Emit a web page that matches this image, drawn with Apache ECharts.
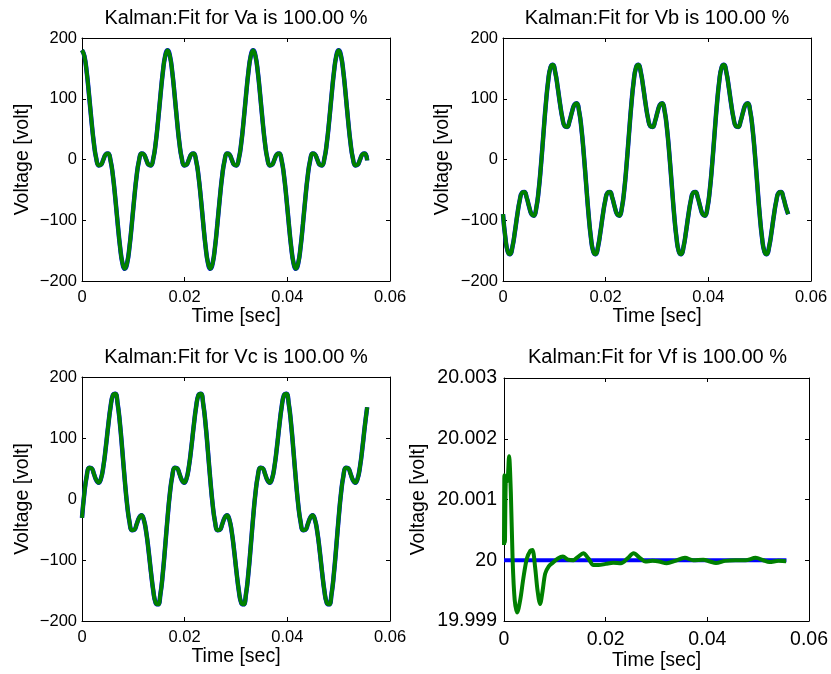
<!DOCTYPE html>
<html><head><meta charset="utf-8">
<script src="https://cdn.jsdelivr.net/npm/echarts@6/dist/echarts.min.js"></script>
<style>html,body{margin:0;padding:0;background:#fff}#chart{width:831px;height:674px}</style>
</head><body><div id="chart"></div>
<script>
// sample times [sec]
const timeSec = [0,0.000463,0.000926,0.001389,0.001852,0.002315,0.002778,0.003241,0.003704,0.004167,
0.004630,0.005093,0.005556,0.006019,0.006481,0.006944,0.007407,0.007870,0.008333,0.008796,
0.009259,0.009722,0.010185,0.010648,0.011111,0.011574,0.012037,0.012500,0.012963,0.013426,
0.013889,0.014352,0.014815,0.015278,0.015741,0.016204,0.016667,0.017130,0.017593,0.018056,
0.018519,0.018981,0.019444,0.019907,0.020370,0.020833,0.021296,0.021759,0.022222,0.022685,
0.023148,0.023611,0.024074,0.024537,0.025000,0.025463,0.025926,0.026389,0.026852,0.027315,
0.027778,0.028241,0.028704,0.029167,0.029630,0.030093,0.030556,0.031019,0.031481,0.031944,
0.032407,0.032870,0.033333,0.033796,0.034259,0.034722,0.035185,0.035648,0.036111,0.036574,
0.037037,0.037500,0.037963,0.038426,0.038889,0.039352,0.039815,0.040278,0.040741,0.041204,
0.041667,0.042130,0.042593,0.043056,0.043519,0.043981,0.044444,0.044907,0.045370,0.045833,
0.046296,0.046759,0.047222,0.047685,0.048148,0.048611,0.049074,0.049537,0.050000,0.050463,
0.050926,0.051389,0.051852,0.052315,0.052778,0.053241,0.053704,0.054167,0.054630,0.055093,
0.055556];

const vaValues = [180,170.3,143.2,104.8,63.2,26.7,1.5,-9.7,-8.5,0,8.5,9.7,-1.5,-26.7,-63.2,-104.8,-143.2,-170.3,-180,-170.3,-143.2,-104.8,-63.2,-26.7,-1.5,9.7,8.5,0,-8.5,-9.7,1.5,26.7,63.2,104.8,143.2,170.3,
180,170.3,143.2,104.8,63.2,26.7,1.5,-9.7,-8.5,0,8.5,9.7,-1.5,-26.7,-63.2,-104.8,-143.2,-170.3,-180,-170.3,-143.2,-104.8,-63.2,-26.7,-1.5,9.7,8.5,0,-8.5,-9.7,1.5,26.7,63.2,104.8,143.2,170.3,
180,170.3,143.2,104.8,63.2,26.7,1.5,-9.7,-8.5,0,8.5,9.7,-1.5,-26.7,-63.2,-104.8,-143.2,-170.3,-180,-170.3,-143.2,-104.8,-63.2,-26.7,-1.5,9.7,8.5,0,-8.5,-9.7,1.5,26.7,63.2,104.8,143.2,170.3,
180,170.3,143.2,104.8,63.2,26.7,1.5,-9.7,-8.5,0,8.5,9.7,-1.5];

const vbValues = [-90.0,-128.9,-151.7,-155.9,-143.2,-119.2,-91.5,-68.1,-54.7,-53.7,-63.2,-77.8,-90.0,-92.5,-80.0,-51.1,-8.5,41.4,90.0,128.9,151.7,155.9,143.2,119.2,91.5,68.1,54.7,53.7,63.2,77.8,90.0,92.5,80.0,51.1,8.5,-41.4,
-90.0,-128.9,-151.7,-155.9,-143.2,-119.2,-91.5,-68.1,-54.7,-53.7,-63.2,-77.8,-90.0,-92.5,-80.0,-51.1,-8.5,41.4,90.0,128.9,151.7,155.9,143.2,119.2,91.5,68.1,54.7,53.7,63.2,77.8,90.0,92.5,80.0,51.1,8.5,-41.4,
-90.0,-128.9,-151.7,-155.9,-143.2,-119.2,-91.5,-68.1,-54.7,-53.7,-63.2,-77.8,-90.0,-92.5,-80.0,-51.1,-8.5,41.4,90.0,128.9,151.7,155.9,143.2,119.2,91.5,68.1,54.7,53.7,63.2,77.8,90.0,92.5,80.0,51.1,8.5,-41.4,
-90.0,-128.9,-151.7,-155.9,-143.2,-119.2,-91.5,-68.1,-54.7,-53.7,-63.2,-77.8,-90.0];

const vcValues = [-31.0,9.7,38.0,51.1,50.5,41.4,31.0,26.7,33.7,53.7,84.2,119.2,150.5,170.3,172.7,155.9,122.2,77.8,31.0,-9.7,-38.0,-51.1,-50.5,-41.4,-31.0,-26.7,-33.7,-53.7,-84.2,-119.2,-150.5,-170.3,-172.7,-155.9,-122.2,-77.8,
-31.0,9.7,38.0,51.1,50.5,41.4,31.0,26.7,33.7,53.7,84.2,119.2,150.5,170.3,172.7,155.9,122.2,77.8,31.0,-9.7,-38.0,-51.1,-50.5,-41.4,-31.0,-26.7,-33.7,-53.7,-84.2,-119.2,-150.5,-170.3,-172.7,-155.9,-122.2,-77.8,
-31.0,9.7,38.0,51.1,50.5,41.4,31.0,26.7,33.7,53.7,84.2,119.2,150.5,170.3,172.7,155.9,122.2,77.8,31.0,-9.7,-38.0,-51.1,-50.5,-41.4,-31.0,-26.7,-33.7,-53.7,-84.2,-119.2,-150.5,-170.3,-172.7,-155.9,-122.2,-77.8,
-31.0,9.7,38.0,51.1,50.5,41.4,31.0,26.7,33.7,53.7,84.2,119.2,150.5];

const vfTime = [0,0.00007,0.00018,0.0004,0.00065,0.001,0.00135,0.0017,0.0021,0.0026,0.0032,0.0038,0.0045,0.0052,0.0056,0.0061,0.0066,0.0071,0.0076,0.0081,0.0088,0.0096,0.0106,0.0116,0.0126,0.0136,0.0146,0.0156,0.0166,0.0176,0.0186,0.0200,0.0215,0.0230,0.0243,0.0255,0.0267,0.0278,0.0292,0.0305,0.0320,0.0337,0.0356,0.0372,0.0392,0.0405,0.0417,0.0435,0.0455,0.0475,0.0495,0.0510,0.0522,0.0540,0.0555];
const vfEstimate = [20.00025,20.0014,20.0003,20.00135,20.0013,20.00171,20.0011,20.0000,19.99935,19.99914,19.99935,19.9997,20.00003,20.00016,20.00017,19.9999,19.9995,19.99928,19.9995,19.99978,19.9999,19.99996,20.00003,20.00006,20.00001,20.0000,20.00006,20.000115,20.00003,19.99992,19.99992,19.99994,19.99996,19.99995,20.00003,20.000115,20.00004,19.99998,19.99999,19.99998,19.99995,19.99999,20.00004,20.0000,20.00001,19.99998,19.999955,19.99999,20.0000,20.0000,20.00004,20.0000,19.99997,19.99999,19.999985];
const vfRefTime = [0, 0.055556];
const vfRefValue = [20, 20];

const panelTitles = ['Kalman:Fit for Va is 100.00 %','Kalman:Fit for Vb is 100.00 %','Kalman:Fit for Vc is 100.00 %','Kalman:Fit for Vf is 100.00 %'];
const xLabel = 'Time [sec]';
const yLabel = 'Voltage [volt]';

const FONT = '"Liberation Sans", Arial, Helvetica, sans-serif';
const BLUE = '#0000ff', GREEN = '#008000';
const grids = [
  {left:82, top:38, width:308, height:243},
  {left:503, top:38, width:308, height:243},
  {left:82, top:377, width:308, height:244},
  {left:504, top:378, width:307, height:243}
];
const yRanges = [
  {min:-200,max:200,interval:100},
  {min:-200,max:200,interval:100},
  {min:-200,max:200,interval:100},
  {min:19.999,max:20.003,interval:0.001}
];
const tickFonts = [16.5,16.5,16.5,19.5];
const yNameGaps = [49,50,49,75];

function zip(a,b){return a.map((v,i)=>[v,b[i]]);}
const minus = s => String(s).replace('-', '\u2212');

const xAxis = [], yAxis = [], title = [], series = [];
grids.forEach((g,i)=>{
  const tf = tickFonts[i];
  const line = {show:true,onZero:false,lineStyle:{color:'#000',width:1}};
  const tick = {show:true,inside:true,length:4,lineStyle:{color:'#000',width:1}};
  xAxis.push({type:'value',gridIndex:i,position:'bottom',min:0,max:0.06,interval:0.02,
    axisLine:line,axisTick:tick,splitLine:{show:false},
    axisLabel:{show:true,color:'#000',fontSize:tf,fontFamily:FONT,margin:i===3?9:8,showMinLabel:true,showMaxLabel:true,
      formatter:v=>String(+(+v).toFixed(2))},
    name:xLabel,nameLocation:'middle',nameGap:i===3?30:24,
    nameTextStyle:{color:'#000',fontSize:19.5,fontFamily:FONT,verticalAlign:'top'}});
  xAxis.push({type:'value',gridIndex:i,position:'top',min:0,max:0.06,interval:0.02,
    axisLine:line,axisTick:tick,splitLine:{show:false},axisLabel:{show:false}});
  const r = yRanges[i];
  yAxis.push({type:'value',gridIndex:i,position:'left',min:r.min,max:r.max,interval:r.interval,
    axisLine:line,axisTick:tick,splitLine:{show:false},
    axisLabel:{show:true,color:'#000',fontSize:tf,fontFamily:FONT,margin:i===3?7:5,showMinLabel:true,showMaxLabel:true,
      formatter:v=> i===3 ? String(+(+v).toFixed(3)) : minus(Math.round(v))},
    name:yLabel,nameLocation:'middle',nameGap:yNameGaps[i],nameRotate:90,
    nameTextStyle:{color:'#000',fontSize:19.5,fontFamily:FONT}});
  yAxis.push({type:'value',gridIndex:i,position:'right',min:r.min,max:r.max,interval:r.interval,
    axisLine:line,axisTick:tick,splitLine:{show:false},axisLabel:{show:false}});
  title.push({text:panelTitles[i],left:g.left+g.width/2,top:i<2?8:347,textAlign:'center',padding:0,
    textStyle:{color:'#000',fontSize:20,fontWeight:'normal',fontFamily:FONT}});
});

const waves = [vaValues, vbValues, vcValues];
waves.forEach((vals,i)=>{
  series.push({type:'line',xAxisIndex:2*i,yAxisIndex:2*i,data:zip(timeSec,vals),showSymbol:false,smooth:true,
    lineStyle:{color:BLUE,width:4.5},z:2});
  series.push({type:'line',xAxisIndex:2*i,yAxisIndex:2*i,data:zip(timeSec,vals),showSymbol:false,smooth:true,
    lineStyle:{color:GREEN,width:4},z:3});
});
series.push({type:'line',xAxisIndex:6,yAxisIndex:6,data:zip(vfRefTime,vfRefValue),showSymbol:false,
  lineStyle:{color:BLUE,width:4},z:2});
series.push({type:'line',xAxisIndex:6,yAxisIndex:6,data:zip(vfTime,vfEstimate),showSymbol:false,smooth:0.3,
  lineStyle:{color:GREEN,width:4},z:3});

const chart = echarts.init(document.getElementById('chart'),null,{renderer:'canvas'});
chart.setOption({animation:false,backgroundColor:'#fff',grid:grids.map(g=>Object.assign({containLabel:false},g)),
  title,xAxis,yAxis,series});
</script></body></html>
